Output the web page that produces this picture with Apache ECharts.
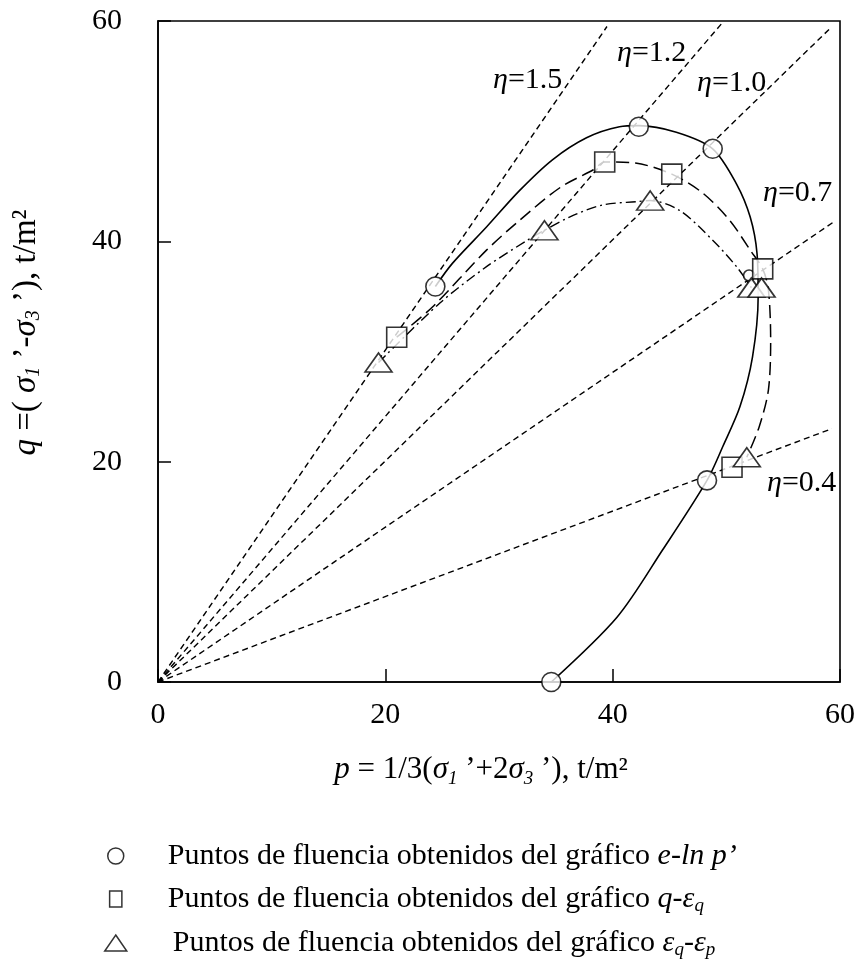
<!DOCTYPE html>
<html>
<head>
<meta charset="utf-8">
<script src="https://cdn.jsdelivr.net/npm/echarts@6/dist/echarts.min.js"></script>
<style>
  html, body { margin: 0; padding: 0; background: #fff; }
  #echart { width: 859px; height: 962px; }
</style>
</head>
<body>
<div id="echart"></div>
<script>
// lineas de relacion de tensiones eta (extremos)
var etaNames = ['1.5', '1.2', '1.0', '0.7', '0.4'];
var etaEndP = [39.5, 49.7, 59.1, 59.5, 59.3];
var etaEndQ = [59.5, 59.9, 59.3, 41.8, 23.0];

// puntos de fluencia (p, q)
var circlePts = [[24.4, 35.9], [42.3, 50.4], [48.8, 48.4], [48.3, 18.3], [34.6, 0]];
var smallCirclePts = [[52.0, 36.9]];
var squarePts = [[21.0, 31.3], [39.3, 47.2], [45.2, 46.1], [53.2, 37.5], [50.5, 19.5]];
var trianglePts = [[19.4, 29.0], [34.0, 41.0], [43.3, 43.7], [52.2, 35.8], [53.1, 35.8], [51.8, 20.4]];

// trazos de las curvas de fluencia
var solidPath = [[34.6, 0], [40.4, 5.9], [44.4, 12.0], [48.3, 18.3], [49.7, 21.4], [51.2, 25.0],
  [52.3, 29.5], [52.8, 35.0], [52.7, 38.9], [52.1, 42.2], [50.9, 45.2], [48.8, 48.4],
  [45.6, 49.9], [42.3, 50.5], [40.6, 50.4], [37.7, 49.4], [34.7, 47.4], [31.8, 44.6],
  [28.9, 41.3], [25.9, 38.0], [24.4, 35.9]];
var dashPath = [[21.0, 31.3], [24.1, 34.0], [28.9, 39.2], [31.8, 41.9], [35.4, 44.9], [38.3, 46.5],
  [39.3, 47.2], [42.0, 47.1], [45.2, 46.1], [47.9, 44.4], [50.3, 41.9], [52.1, 39.2],
  [53.2, 37.5], [53.7, 35.6], [53.9, 31.0], [53.7, 26.5], [52.9, 23.2], [51.8, 20.4]];
var dashDotPath = [[19.4, 29.0], [24.8, 34.4], [28.9, 37.7], [32.5, 40.1], [34.0, 41.0], [36.2, 42.2],
  [39.1, 43.3], [42.1, 43.6], [43.3, 43.7], [45.9, 42.8], [48.8, 40.1], [50.9, 37.7], [52.2, 35.8]];

var legendNames = ['circulo', 'cuadrado', 'triangulo'];
var legendTexts = [
  '{g| }{n|Puntos de fluencia obtenidos del gráfico }{i|e-ln p’}',
  '{g| }{n|Puntos de fluencia obtenidos del gráfico }{i|q}{n|-}{i|ε}{s|q}',
  '{h| }{n|Puntos de fluencia obtenidos del gráfico }{i|ε}{s|q}{n|-}{i|ε}{s|p}'
];

var serif = 'Liberation Serif';
function makeRich(size, lh) {
  return {
    n: { fontFamily: serif, fontSize: size, color: '#000', lineHeight: lh },
    i: { fontFamily: serif, fontSize: size, fontStyle: 'italic', color: '#000', lineHeight: lh },
    s: { fontFamily: serif, fontSize: Math.round(size * 0.62), fontStyle: 'italic', color: '#000',
         verticalAlign: 'bottom', lineHeight: lh },
    g: { width: 36, lineHeight: lh },
    h: { width: 41, lineHeight: lh },
    sp: { width: 38, lineHeight: lh },
    sx: { width: 36, lineHeight: lh }
  };
}

var myEchart = echarts.init(document.getElementById('echart'));

var series = [];
for (var i = 0; i < etaNames.length; i++) {
  series.push({
    type: 'line',
    data: [[0, 0], [etaEndP[i], etaEndQ[i]]],
    showSymbol: false,
    silent: true,
    lineStyle: { color: '#000', width: 1.4, type: [6, 4] },
    z: 2
  });
}
series.push({
  type: 'line', data: solidPath, smooth: 0.3, showSymbol: false, silent: true,
  lineStyle: { color: '#000', width: 1.6, type: 'solid' }, z: 3
});
series.push({
  type: 'line', data: dashPath, smooth: 0.3, showSymbol: false, silent: true,
  lineStyle: { color: '#000', width: 1.5, type: [13, 6] }, z: 3
});
series.push({
  type: 'line', data: dashDotPath, smooth: 0.3, showSymbol: false, silent: true,
  lineStyle: { color: '#000', width: 1.4, type: [10, 4, 2, 4] }, z: 3
});

var markerStyle = { color: '#fff', borderColor: '#000', borderWidth: 1.6 };
series.push({
  name: legendNames[0], type: 'scatter', data: circlePts, symbol: 'circle', symbolSize: 19,
  itemStyle: markerStyle, z: 5
});
series.push({
  type: 'scatter', data: smallCirclePts, symbol: 'circle', symbolSize: 11,
  itemStyle: markerStyle, z: 5
});
series.push({
  name: legendNames[1], type: 'scatter', data: squarePts, symbol: 'rect', symbolSize: 20,
  itemStyle: markerStyle, z: 5
});
series.push({
  name: legendNames[2], type: 'scatter', data: trianglePts, symbol: 'triangle', symbolSize: [27, 19],
  itemStyle: markerStyle, z: 5
});

// etiquetas eta
var etaLabelPos = [[493, 80], [617, 53], [697, 83], [763, 193], [767, 483]];
var graphics = [];
for (var j = 0; j < etaNames.length; j++) {
  graphics.push({
    type: 'text',
    x: etaLabelPos[j][0],
    y: etaLabelPos[j][1],
    z: 10,
    style: {
      text: '{e|η}{n|=' + etaNames[j] + '}',
      verticalAlign: 'middle',
      align: 'left',
      rich: {
        e: { fontFamily: serif, fontSize: 30, fontStyle: 'italic', color: '#000' },
        n: { fontFamily: serif, fontSize: 30, color: '#000' }
      }
    }
  });
}

var option = {
  backgroundColor: '#fff',
  animation: false,
  grid: {
    left: 158, right: 19, top: 21, bottom: 280,
    show: true, borderColor: '#000', borderWidth: 1.6, backgroundColor: 'transparent'
  },
  xAxis: {
    type: 'value', min: 0, max: 60, interval: 20,
    axisLine: { show: true, lineStyle: { color: '#000', width: 1.6 } },
    axisTick: { show: true, inside: true, length: 13, lineStyle: { color: '#000', width: 1.5 } },
    splitLine: { show: false },
    axisLabel: { color: '#000', fontFamily: serif, fontSize: 30, margin: 18 },
    name: '{i|p}{n| = 1/3(}{i|σ}{s|1}{n| ’+2}{i|σ}{s|3}{n| ’), t/m²}{sx| }',
    nameLocation: 'middle',
    nameGap: 70,
    nameTextStyle: { rich: makeRich(31, 36) }
  },
  yAxis: {
    type: 'value', min: 0, max: 60, interval: 20,
    axisLine: { show: true, lineStyle: { color: '#000', width: 1.6 } },
    axisTick: { show: true, inside: true, length: 13, lineStyle: { color: '#000', width: 1.5 } },
    splitLine: { show: false },
    axisLabel: { color: '#000', fontFamily: serif, fontSize: 30, margin: 36 },
    name: '{sp| }{i|q}{n| =( }{i|σ}{s|1}{n| ’-}{i|σ}{s|3}{n| ’), t/m²}',
    nameLocation: 'middle',
    nameRotate: 90,
    nameGap: 114,
    nameTextStyle: { rich: makeRich(33, 36) }
  },
  legend: {
    orient: 'vertical',
    left: 104,
    top: 841,
    padding: 0,
    itemWidth: 22,
    itemHeight: 16,
    itemGap: 13,
    selectedMode: false,
    itemStyle: { color: '#fff', borderColor: '#000', borderWidth: 1.5 },
    data: [
      { name: legendNames[0], icon: 'circle' },
      { name: legendNames[1], icon: 'path://M0,0L13,0L13,17L0,17Z' },
      { name: legendNames[2], icon: 'triangle' }
    ],
    formatter: function (name) {
      return legendTexts[legendNames.indexOf(name)];
    },
    textStyle: { rich: makeRich(30, 32) }
  },
  graphic: graphics,
  series: series
};

myEchart.setOption(option);
</script>
</body>
</html>
